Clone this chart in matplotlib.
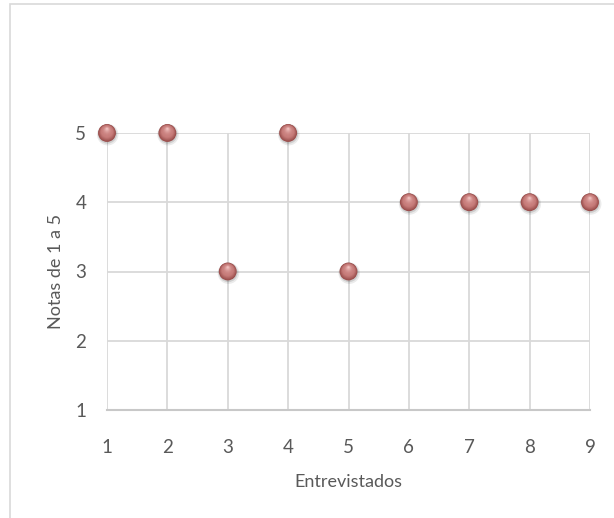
import matplotlib
matplotlib.use("Agg")
import matplotlib.pyplot as plt
from matplotlib.patches import Rectangle
import matplotlib.transforms as mtransforms
import numpy as np

entrevistados = [1, 2, 3, 4, 5, 6, 7, 8, 9]
notas = [5, 5, 3, 5, 3, 4, 4, 4, 4]
x_ticks = [1, 2, 3, 4, 5, 6, 7, 8, 9]
y_ticks = [1, 2, 3, 4, 5]

plt.rcParams['font.family'] = ['Lato', 'DejaVu Sans']

W, H = 614, 518
fig = plt.figure(figsize=(W / 100, H / 100), dpi=100)
fig.patch.set_facecolor('white')

# chart border
fig.add_artist(Rectangle((10 / W, -0.05), 1.2, (H - 4) / H + 0.05, transform=fig.transFigure,
                         fill=False, edgecolor='#d9d9d9', linewidth=1.2))

left, right = 107 / W, 590 / W
bottom, top = (H - 410) / H, (H - 133) / H
ax = fig.add_axes([left, bottom, right - left, top - bottom])
ax.set_xlim(1, 9)
ax.set_ylim(1, 5)
ax.set_xticks(x_ticks)
ax.set_yticks(y_ticks)
ax.grid(True, color='#d9d9d9', linewidth=1.3)
ax.set_axisbelow(True)
for s in ['top', 'right', 'left']:
    ax.spines[s].set_visible(False)
ax.spines['bottom'].set_color('#c8c8c8')
ax.spines['bottom'].set_linewidth(1.5)
ax.tick_params(axis='both', length=0, labelsize=13.5, colors='#595959')
ax.tick_params(axis='x', pad=21)
ax.tick_params(axis='y', pad=15)
ax.set_xlabel('Entrevistados', fontsize=13, color='#595959', labelpad=13)
ax.set_ylabel('Notas de 1 a 5', fontsize=13, color='#595959', labelpad=8)

x = np.array(entrevistados, dtype=float)
y = np.array(notas, dtype=float)

def shifted(dx_pt, dy_pt):
    return ax.transData + mtransforms.ScaledTranslation(dx_pt / 72, dy_pt / 72, fig.dpi_scale_trans)

# shadow
ax.scatter(x, y, s=240, color='#000000', alpha=0.08, edgecolors='none', zorder=3, clip_on=False,
           transform=shifted(0.5, -1.2))
ax.scatter(x, y, s=190, color='#000000', alpha=0.12, edgecolors='none', zorder=3, clip_on=False,
           transform=shifted(0.3, -0.8))
# sphere layers
dark = np.array([0x9a, 0x4e, 0x4c]) / 255.0
mid = np.array([0xc8, 0x7d, 0x7b]) / 255.0
light = np.array([0xf0, 0xc0, 0xbe]) / 255.0
n = 14
size0 = 165
for i in range(n):
    t = i / (n - 1)
    if t < 0.35:
        u = t / 0.35
        col = dark * (1 - u) + mid * u
    else:
        u = (t - 0.35) / 0.65
        col = mid * (1 - u ** 2) + light * (u ** 2)
    sz = size0 * (1 - 0.9 * t) ** 2
    ax.scatter(x, y, s=sz, color=col, edgecolors='none', zorder=4 + i, clip_on=False,
               transform=shifted(0, 3.0 * t))

fig.savefig('out.png', dpi=100)
